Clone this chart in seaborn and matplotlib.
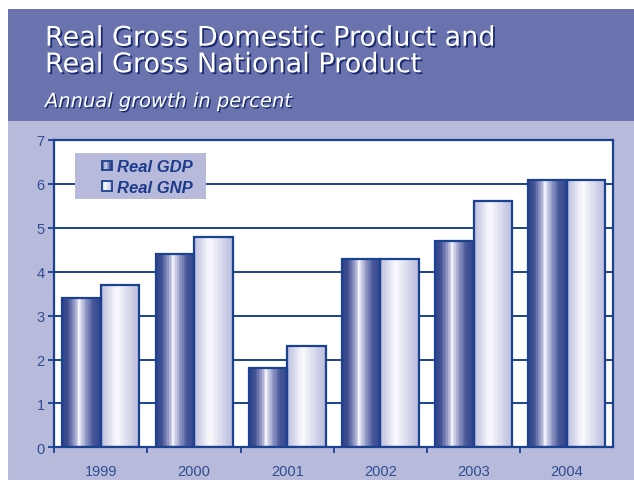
import numpy as np
import pandas as pd
import matplotlib
matplotlib.use("Agg")
import matplotlib.pyplot as plt
import matplotlib.patheffects as pe
from matplotlib.colors import LinearSegmentedColormap
from matplotlib.patches import Rectangle
from matplotlib.legend_handler import HandlerBase
import seaborn as sns

# ---- data -------------------------------------------------------------
years = ["1999", "2000", "2001", "2002", "2003", "2004"]
real_gdp = [3.4, 4.4, 1.8, 4.3, 4.7, 6.1]
real_gnp = [3.7, 4.8, 2.3, 4.3, 5.6, 6.1]
series_names = ["Real GDP", "Real GNP"]
y_ticks = [0, 1, 2, 3, 4, 5, 6, 7]

title_lines = ["Real Gross Domestic Product and", "Real Gross National Product"]
subtitle = "Annual growth in percent"

# ---- colours ----------------------------------------------------------
NAVY = "#1a4291"
TICK_TEXT = "#2f4d90"
LEGEND_TEXT = "#1d3b8b"
BAND = "#6a73ad"
LAVENDER = "#b8badb"
SHADOW = "#1b2b6f"

gdp_cmap = LinearSegmentedColormap.from_list(
    "gdp", [(0, "#34448a"), (0.12, "#3f4f92"), (0.3, "#8d95c4"),
            (0.44, "#f4f4fb"), (0.6, "#9aa1cb"), (0.8, "#4a589a"),
            (1, "#34458c")], N=24)
gnp_cmap = LinearSegmentedColormap.from_list(
    "gnp", [(0, "#bfc1df"), (0.4, "#fbfbfe"), (1, "#babcdc")], N=24)

df = pd.DataFrame({
    "year": years * 2,
    "value": real_gdp + real_gnp,
    "series": [series_names[0]] * len(years) + [series_names[1]] * len(years),
})

sns.set_theme(style="white")
plt.rcParams["font.family"] = ["Liberation Sans", "DejaVu Sans"]

W, H = 634, 481
fig = plt.figure(figsize=(W / 100, H / 100), dpi=100, facecolor="white")

# page background: dark heading band over a light lavender panel
fig.patches.append(Rectangle((8 / W, 0), 1 - 8 / W, (H - 122) / H,
                             transform=fig.transFigure, facecolor=LAVENDER,
                             edgecolor="none", zorder=0))
fig.patches.append(Rectangle((8 / W, (H - 122) / H), 1 - 8 / W, 112 / H,
                             transform=fig.transFigure, facecolor=BAND,
                             edgecolor="none", zorder=0))

ax = fig.add_axes([54.3 / W, (H - 448.3) / H, 559 / W, 307.3 / H])
ax.set_zorder(2)
ax.set_facecolor("white")

sns.barplot(data=df, x="year", y="value", hue="series", order=years,
            hue_order=series_names, palette=["#5a66a3", "#e0e1f0"],
            width=0.826, edgecolor=NAVY, linewidth=1.6, saturation=1,
            legend=False, ax=ax)

# cylinder-style gradient fill for every bar
grad = np.linspace(0, 1, 256).reshape(1, -1)
for container, cmap in zip(ax.containers, [gdp_cmap, gnp_cmap]):
    for bar in container:
        x0, y0 = bar.get_x(), bar.get_y()
        w, h = bar.get_width(), bar.get_height()
        z = bar.get_zorder()
        ax.imshow(grad, cmap=cmap, extent=[x0, x0 + w, y0, y0 + h],
                  aspect="auto", interpolation="nearest", zorder=z + 0.1)
        bar.set_facecolor("none")
        bar.set_zorder(z + 0.2)

ax.set_xlim(-0.5, len(years) - 0.5)
ax.set_ylim(y_ticks[0], y_ticks[-1])
ax.set_xlabel("")
ax.set_ylabel("")

# gridlines and axes
ax.set_axisbelow(True)
ax.yaxis.grid(True, color=NAVY, linewidth=1.4)
ax.xaxis.grid(False)
for s in ax.spines.values():
    s.set_visible(True)
    s.set_color(NAVY)
    s.set_linewidth(1.6)

ax.set_yticks(y_ticks)
ax.tick_params(axis="y", which="major", left=True, direction="out", length=4.3,
               width=1.3, color=NAVY, labelcolor=TICK_TEXT, labelsize=10.5, pad=2.5)
ax.set_xticks(np.arange(len(years)) - 0.5, minor=True)
ax.tick_params(axis="x", which="major", bottom=True, length=0,
               labelcolor=TICK_TEXT, labelsize=10.5, pad=12)
ax.tick_params(axis="x", which="minor", bottom=True, direction="out", length=4,
               width=1.3, color=NAVY)


# legend with small gradient swatches on a lavender box
class SwatchHandler(HandlerBase):
    def __init__(self, cmap):
        super().__init__()
        self.cmap = cmap

    def create_artists(self, legend, orig_handle, xdescent, ydescent,
                       width, height, fontsize, trans):
        side = height * 0.85
        x0 = -xdescent + width - side
        y0 = -ydescent + (height - side) / 2
        n = 7
        arts = []
        for i in range(n):
            arts.append(Rectangle((x0 + i * side / n, y0), side / n, side,
                                  facecolor=self.cmap((i + 0.5) / n),
                                  edgecolor="none", transform=trans))
        arts.append(Rectangle((x0, y0), side, side, facecolor="none",
                              edgecolor=NAVY, linewidth=1.3, transform=trans))
        return arts


ax.add_patch(Rectangle((0.037, 0.8065), 0.2343, 0.152, transform=ax.transAxes,
                       facecolor=LAVENDER, edgecolor="none", zorder=3))
h_gdp = Rectangle((0, 0), 1, 1)
h_gnp = Rectangle((0, 0), 1, 1)
leg = ax.legend(handles=[h_gdp, h_gnp], labels=series_names,
                handler_map={h_gdp: SwatchHandler(gdp_cmap),
                             h_gnp: SwatchHandler(gnp_cmap)},
                loc="upper left", bbox_to_anchor=(0.08, 0.937),
                frameon=False, borderpad=0, borderaxespad=0,
                handlelength=0.75, handleheight=0.7, handletextpad=0.3,
                labelspacing=0.35,
                prop={"family": "Liberation Sans", "weight": "bold",
                      "style": "italic", "size": 12})
leg.set_zorder(5)
for t in leg.get_texts():
    t.set_color(LEGEND_TEXT)

# heading
shadow = [pe.SimplePatchShadow(offset=(1.3, -1.3), shadow_rgbFace=SHADOW, alpha=1.0),
          pe.Normal()]
fig.text(45 / W, 1 - 46.7 / H, title_lines[0], fontsize=19.5, color="white",
         family="DejaVu Sans", va="baseline", path_effects=shadow)
fig.text(45 / W, 1 - 73.3 / H, title_lines[1], fontsize=19.5, color="white",
         family="DejaVu Sans", va="baseline", path_effects=shadow)
fig.text(45 / W, 1 - 108 / H, subtitle, fontsize=14, color="white",
         family="DejaVu Sans", style="italic", va="baseline",
         path_effects=[pe.SimplePatchShadow(offset=(1.0, -1.0), shadow_rgbFace=SHADOW,
                                            alpha=1.0), pe.Normal()])

fig.savefig("out.png", dpi=100)
